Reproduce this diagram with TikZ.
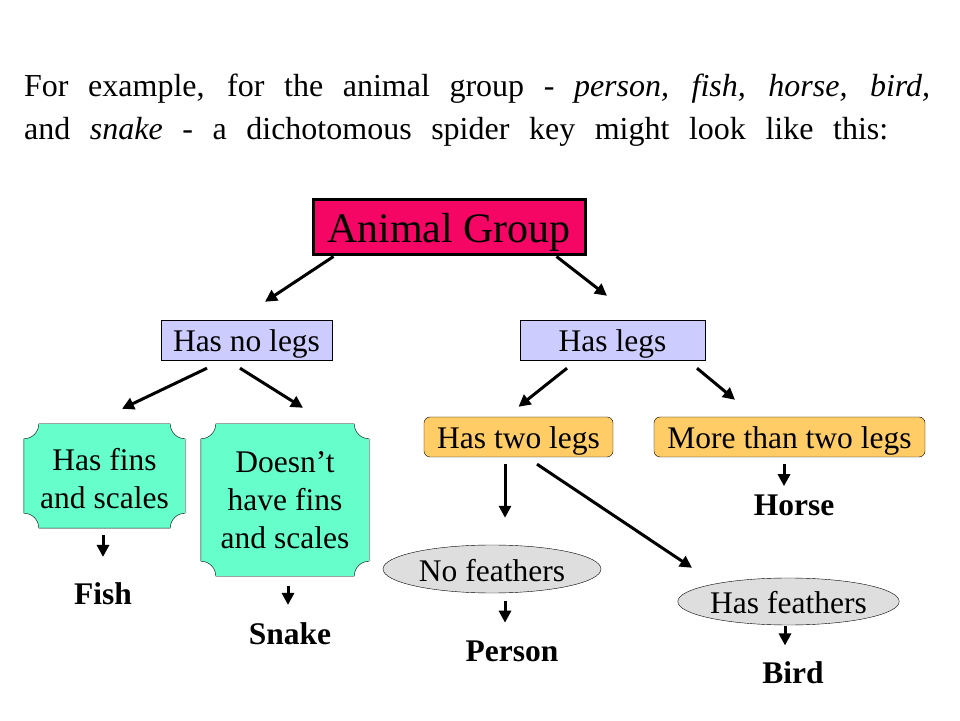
\documentclass[tikz,border=0pt]{standalone}
\usepackage{fontspec}
\setmainfont{Liberation Serif}
\usetikzlibrary{arrows.meta,shapes.geometric,backgrounds}

\definecolor{grouprouge}{RGB}{245,5,100}
\definecolor{pattesbleu}{RGB}{204,204,255}
\definecolor{pattesorange}{RGB}{255,204,102}
\definecolor{nageoirevert}{RGB}{102,255,204}
\definecolor{plumegris}{RGB}{222,222,222}

\begin{document}
\begin{tikzpicture}[x=1pt,y=1pt]
	\tikzstyle{texte}=[font=\fontsize{31.5}{38}\selectfont]
	\tikzstyle{groupe}=[draw, line width=3, fill=grouprouge, font=\fontsize{42}{46}\selectfont, minimum width=272, minimum height=55, inner sep=0, text height=31, text depth=0]
	\tikzstyle{bleu}=[texte, draw, fill=pattesbleu, minimum height=40, inner sep=0, text height=24, text depth=0]
	\tikzstyle{orange}=[texte, draw, fill=pattesorange, rounded corners=6, minimum height=40, inner sep=0, text height=24, text depth=0]
	\tikzstyle{vert}=[texte, align=center, inner sep=0]
	\tikzstyle{plaque}=[draw, fill=nageoirevert]
	\tikzstyle{plume}=[texte, ellipse, draw, fill=plumegris, inner sep=0, text height=24, text depth=0]
	\tikzstyle{animal}=[font=\bfseries\fontsize{31.5}{37}\selectfont, inner sep=0, anchor=base]
	\tikzstyle{fleche}=[line width=3, -{Triangle[length=12pt,width=12pt]}]
	\useasboundingbox (0,0) rectangle (960,720);

	% titre
	\node[font=\fontsize{32}{38}\selectfont, anchor=base west, inner sep=0] (ligneA) at (24,623){\makebox[906pt][s]{For example, for the animal group - \textit{person, fish, horse, bird,}}};
	\node[font=\fontsize{32}{38}\selectfont, anchor=base west, inner sep=0] (ligneB) at (24,580){\makebox[864pt][s]{and \textit{snake} - a dichotomous spider key might look like this:}};

	% cles
	\node[groupe] (G) at (449,492.5){Animal Group};
	\node[bleu, minimum width=171] (SP) at (246.5,380){Has no legs};
	\node[bleu, minimum width=185] (P) at (612.5,380){Has legs};
	\node[orange, minimum width=189] (DP) at (518.5,283){Has two legs};
	\node[orange, minimum width=271] (PP) at (789.5,283){More than two legs};
	\node[texte, inner sep=0, minimum width=161, minimum height=104, text height=50, text depth=26] (N) at (104.5,244){\begin{tabular}{@{}c@{}}Has fins\\and scales\end{tabular}};
	\node[vert, minimum width=168, minimum height=152] (SN) at (285,220){Doesn’t\\have fins\\and scales};
	\node[plume, minimum width=218, minimum height=48] (SPl) at (492,151){No feathers};
	\node[plume, minimum width=217, minimum height=47] (Pl) at (788.5,118.5){Has feathers};

	% animaux
	\node[animal] (fish) at (103,116){Fish};
	\node[animal] (snake) at (290,76){Snake};
	\node[animal] (person) at (512,59){Person};
	\node[animal] (horse) at (794,204){Horse};
	\node[animal] (bird) at (793,37){Bird};

	% coins creuses
	\begin{scope}[on background layer]
	\foreach \n in {N,SN}
		\draw[plaque] ([xshift=15]\n.north west) -- ([xshift=-15]\n.north east) arc[start angle=180,end angle=270,radius=15] -- ([yshift=15]\n.south east) arc[start angle=90,end angle=180,radius=15] -- ([xshift=15]\n.south west) arc[start angle=0,end angle=90,radius=15] -- ([yshift=-15]\n.north west) arc[start angle=-90,end angle=0,radius=15] -- cycle;
	\end{scope}

	% fleches
	\draw[fleche] ([xshift=22]G.south west) -- ([xshift=18.5,yshift=18]SP.north);
	\draw[fleche] ([xshift=-30]G.south east) -- ([xshift=-5.5,yshift=24]P.north);
	\draw[fleche] ([xshift=-39.5,yshift=-8]SP.south) -- ([xshift=17.5,yshift=15]N.north);
	\draw[fleche] ([xshift=-6.5,yshift=-8]SP.south) -- ([xshift=18,yshift=16]SN.north);
	\draw[fleche] ([xshift=-45.5,yshift=-8]P.south) -- ([yshift=10]DP.north);
	\draw[fleche] ([xshift=84.5,yshift=-8]P.south) -- ([xshift=-54.5,yshift=17]PP.north);
	\draw[fleche] ([xshift=-13.5,yshift=-7]DP.south) -- ([xshift=13,yshift=27]SPl.north);
	\draw[fleche] ([xshift=18.5,yshift=-7]DP.south) -- ([xshift=-96.5,yshift=10]Pl.north);
	\draw[fleche] ([xshift=-1.5,yshift=-7]N.south) -- ([yshift=25]fish.north);
	\draw[fleche] ([xshift=3,yshift=-10]SN.south) -- ([xshift=-2,yshift=17]snake.north);
	\draw[fleche] ([xshift=13,yshift=-8]SPl.south) -- ([xshift=-7,yshift=17.5]person.north);
	\draw[fleche] ([xshift=-5.5,yshift=-7]PP.south) -- ([xshift=-10,yshift=9]horse.north);
	\draw[fleche] ([xshift=-3.5,yshift=-1]Pl.south) -- ([xshift=-8,yshift=15.5]bird.north);
\end{tikzpicture}
\end{document}
